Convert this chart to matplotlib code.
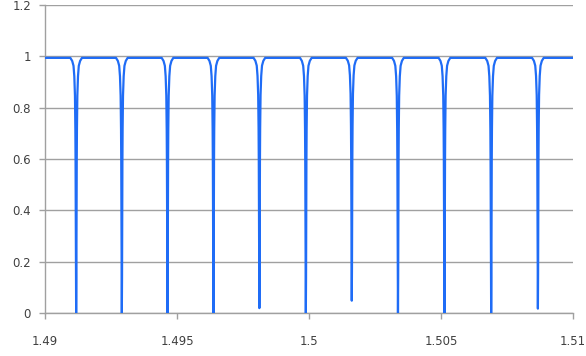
import numpy as np
import matplotlib.pyplot as plt

# resonance dip centres and how deep each one goes
dip_centers = [1.49118, 1.49291, 1.49464, 1.49638, 1.49812, 1.49988,
               1.50162, 1.50337, 1.50513, 1.50690, 1.50867]
dip_depths = [0.994, 0.994, 0.994, 0.994, 0.975, 0.994, 0.946, 0.994, 0.994, 0.994, 0.977]
top_level = 0.994

# shape of a single dip: offset from centre and fraction of the depth
profile_offset = [-22e-5, -15e-5, -10e-5, -7e-5, -4.5e-5, -3e-5, -2.2e-5, -1.5e-5, -0.8e-5, 0.0,
                  0.8e-5, 1.5e-5, 2.2e-5, 3e-5, 4.5e-5, 7e-5, 10e-5, 15e-5, 22e-5]
profile_frac = [0.0, 0.012, 0.031, 0.072, 0.148, 0.28, 0.41, 0.61, 0.862, 1.0,
                0.862, 0.61, 0.41, 0.28, 0.148, 0.072, 0.031, 0.012, 0.0]

x_start, x_end = 1.49, 1.51

xs = [x_start]
ys = [top_level]
for c, d in zip(dip_centers, dip_depths):
    for off, fr in zip(profile_offset, profile_frac):
        xs.append(c + off)
        ys.append(top_level - d * fr)
xs.append(x_end)
ys.append(top_level)

fig = plt.figure(figsize=(5.86, 3.56), dpi=100)
ax = fig.add_axes([45 / 586, 43 / 356, 528 / 586, 308 / 356])

ax.plot(xs, ys, color='#1f6cf6', lw=1.6, solid_joinstyle='round', zorder=3)

ax.set_xlim(x_start, x_end)
ax.set_ylim(0, 1.2)
ax.set_xticks([1.49, 1.495, 1.5, 1.505, 1.51])
ax.set_xticklabels(['1.49', '1.495', '1.5', '1.505', '1.51'])
ax.set_yticks([0, 0.2, 0.4, 0.6, 0.8, 1, 1.2])
ax.set_yticklabels(['0', '0.2', '0.4', '0.6', '0.8', '1', '1.2'])

ax.grid(axis='y', color='#a0a0a0', lw=1.0)
ax.set_axisbelow(True)
for s in ['top', 'right']:
    ax.spines[s].set_visible(False)
for s in ['left', 'bottom']:
    ax.spines[s].set_color('#a0a0a0')
    ax.spines[s].set_linewidth(1.0)

ax.tick_params(axis='both', colors='#a0a0a0', length=4, width=1.0,
               labelcolor='#404040', labelsize=8.5)
ax.tick_params(axis='x', pad=12)
ax.tick_params(axis='y', pad=6)

fig.savefig('out.png', dpi=100)
